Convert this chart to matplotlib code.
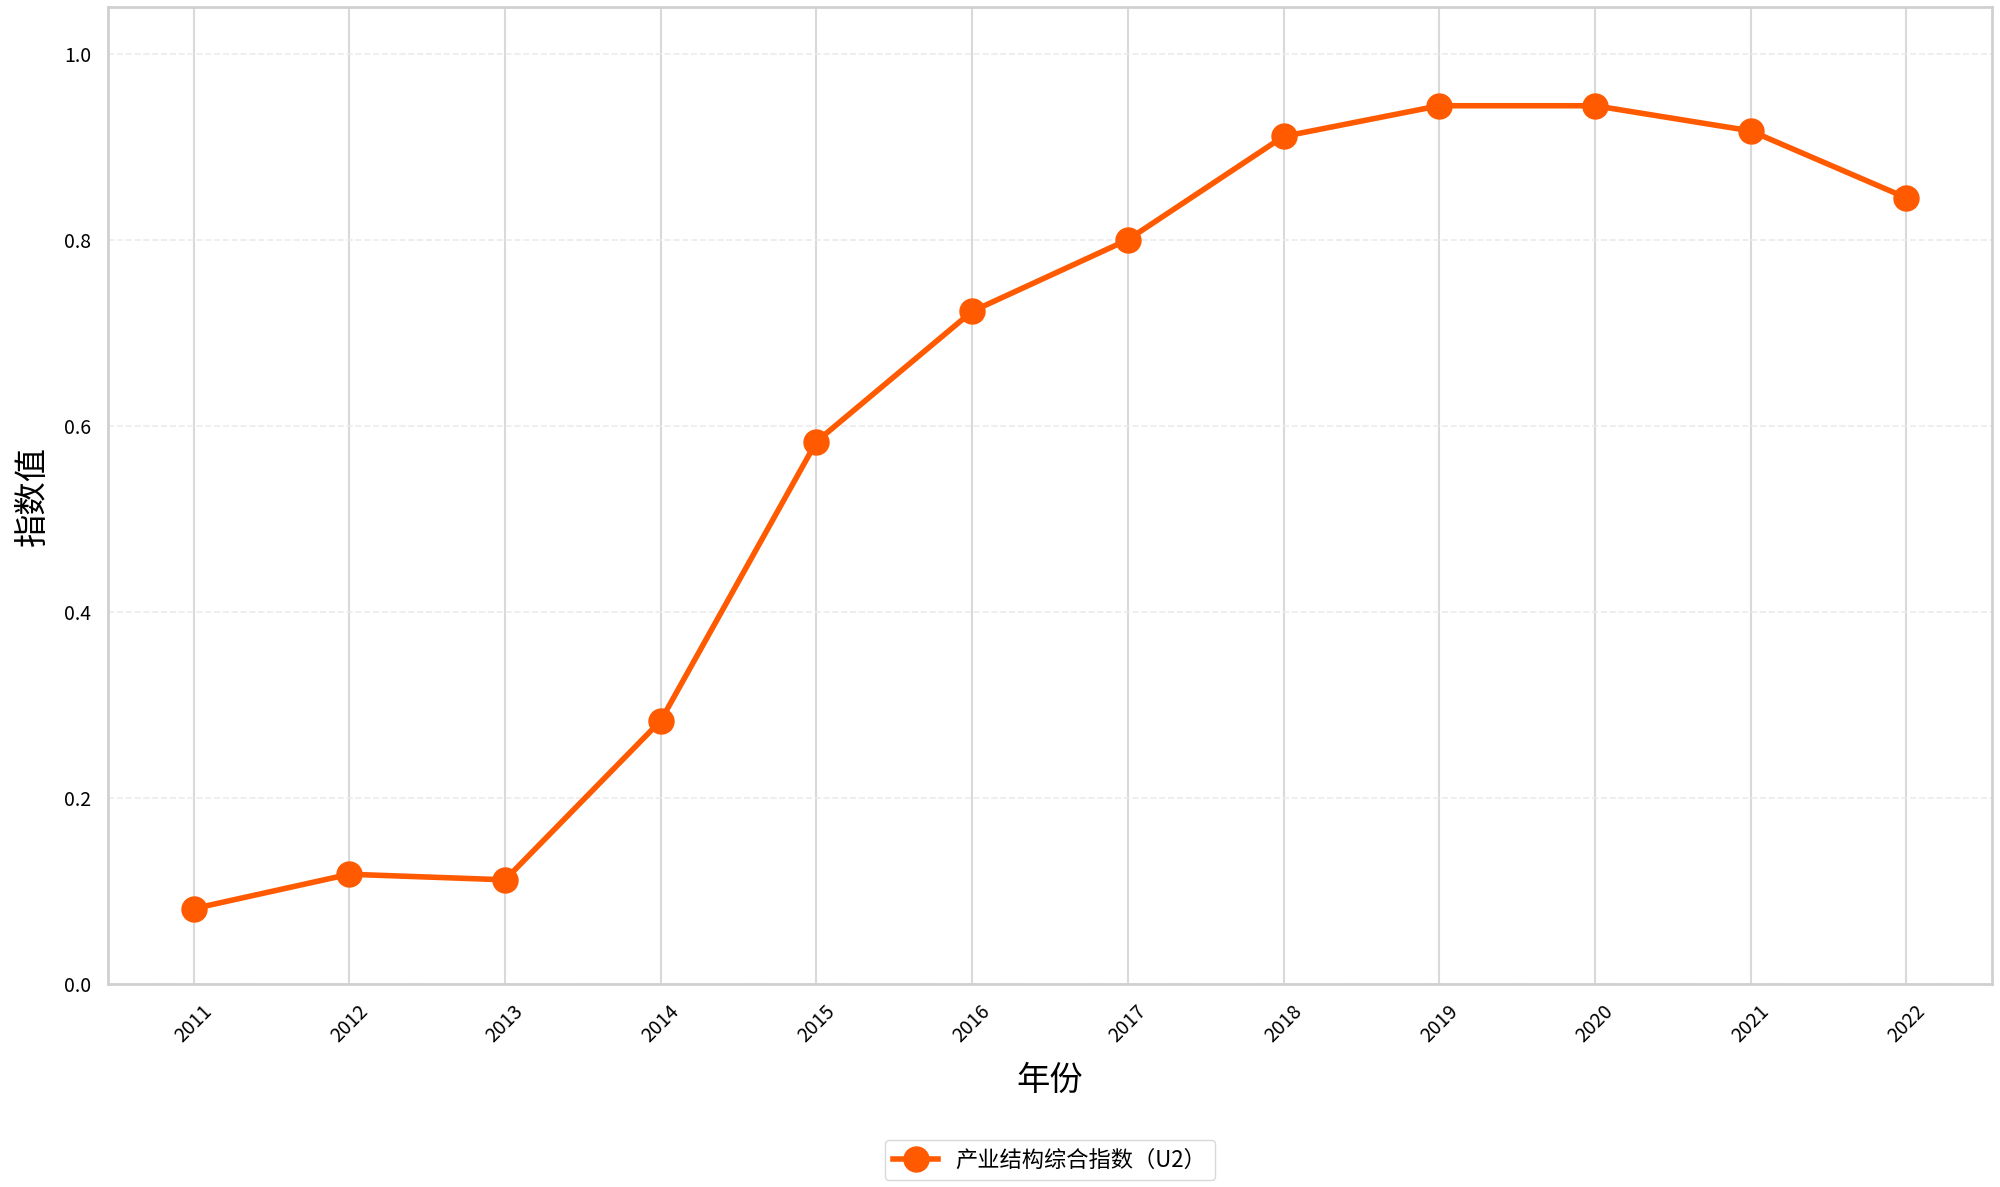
import numpy as np
import matplotlib
matplotlib.use('Agg')
import matplotlib.pyplot as plt

plt.rcParams['font.family'] = ['Noto Sans CJK SC', 'DejaVu Sans']
plt.rcParams['axes.unicode_minus'] = False

# data
years = ['2011', '2012', '2013', '2014', '2015', '2016',
         '2017', '2018', '2019', '2020', '2021', '2022']
u2 = [0.081, 0.118, 0.112, 0.283, 0.583, 0.723,
      0.800, 0.911, 0.944, 0.944, 0.917, 0.845]
series_name = '产业结构综合指数（U2）'

fig = plt.figure(figsize=(20, 11.87), dpi=100)
ax = fig.add_axes([0.054, 0.171, 0.942, 0.823])

x = np.arange(len(years))
ax.plot(x, u2, color='#ff5a00', linewidth=4, marker='o', markersize=18,
        label=series_name, zorder=3)

ax.set_ylim(0, 1.05)
ax.set_yticks([0.0, 0.2, 0.4, 0.6, 0.8, 1.0])
ax.set_xticks(x)
ax.set_xticklabels(years, rotation=45)
ax.tick_params(axis='both', labelsize=14, length=0, pad=12)

# grid: solid vertical, dashed horizontal
ax.grid(axis='x', color='#d9d9d9', linewidth=1.5, linestyle='-')
ax.grid(axis='y', color='#ebebeb', linewidth=1.2, linestyle='--')
ax.set_axisbelow(True)
for s in ax.spines.values():
    s.set_color('#d0d0d0')
    s.set_linewidth(2)

ax.set_xlabel('年份', fontsize=24, labelpad=12)
ax.set_ylabel('指数值', fontsize=24, labelpad=10)

ax.legend(loc='upper center', bbox_to_anchor=(0.5, -0.148), ncol=1,
          fontsize=16, frameon=True, edgecolor='#d0d0d0', fancybox=True)

fig.savefig('out.png', dpi=100)
